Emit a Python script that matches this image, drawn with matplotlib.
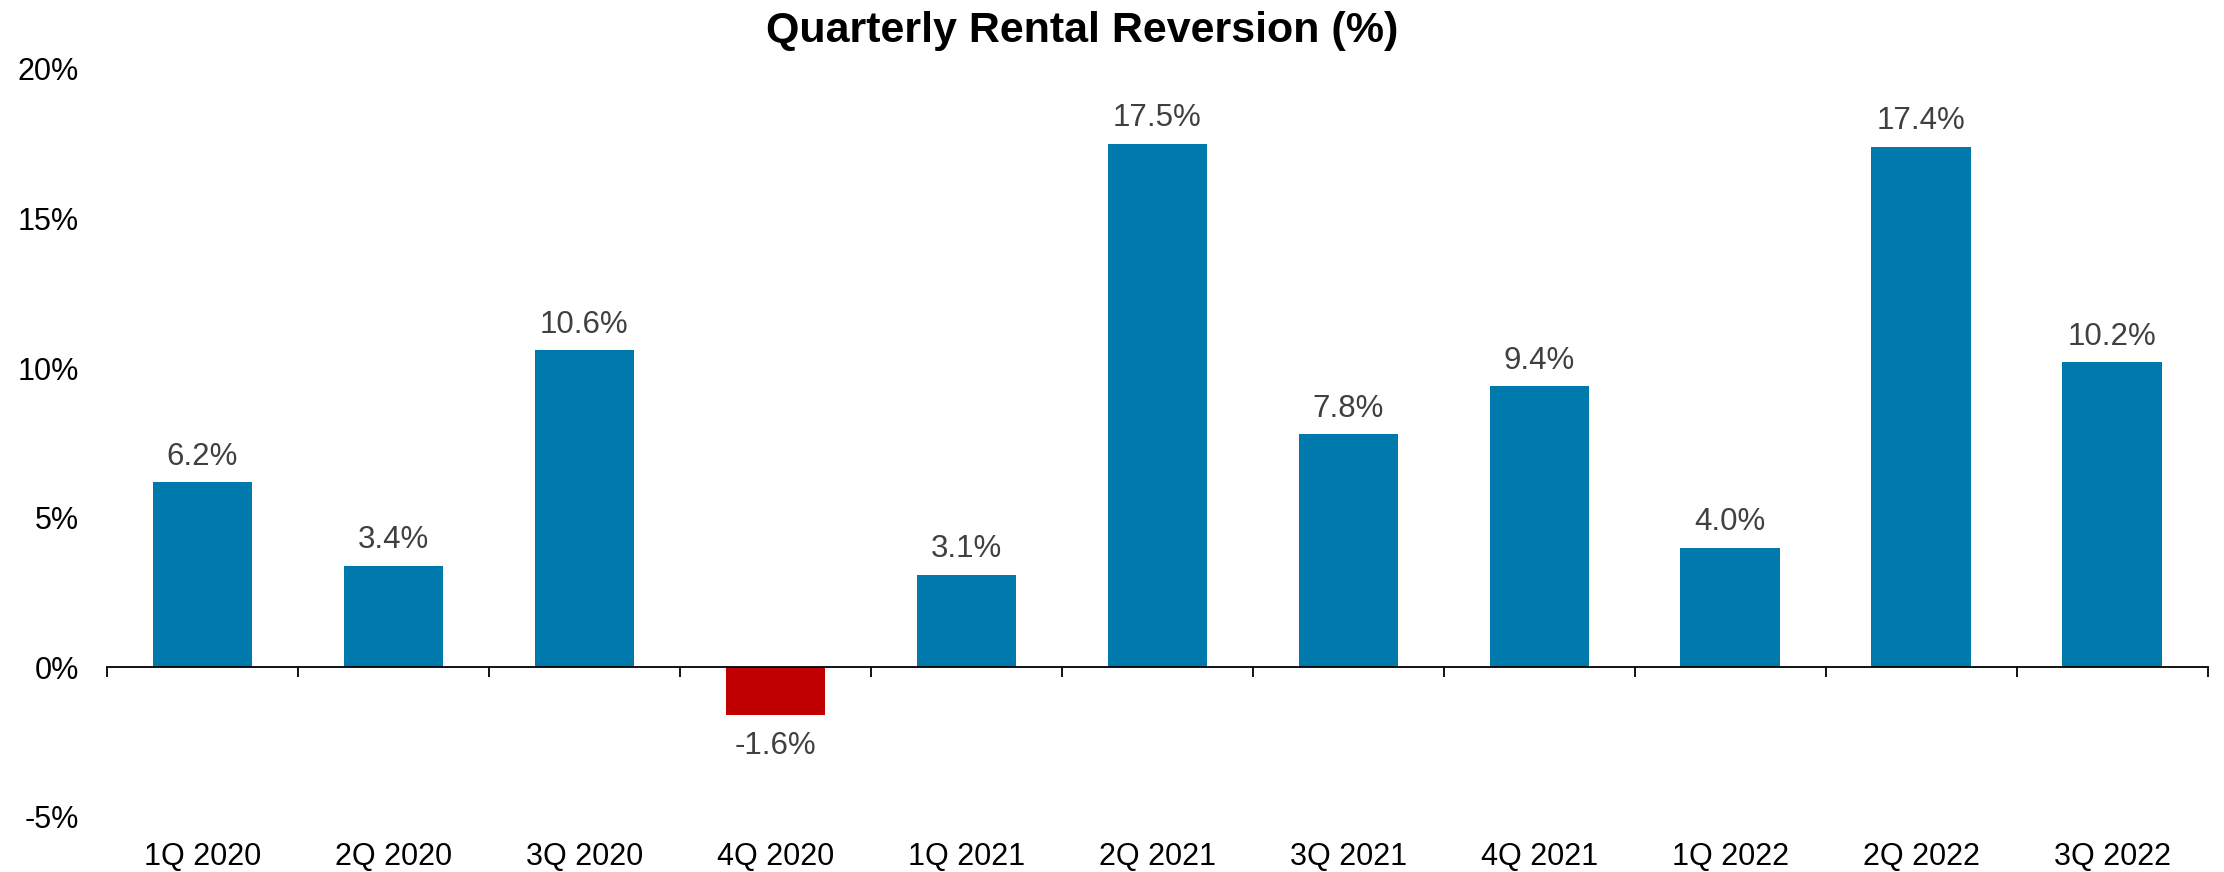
import matplotlib
matplotlib.use("Agg")
import matplotlib.pyplot as plt
import numpy as np

plt.rcParams['font.family'] = ['Liberation Sans', 'DejaVu Sans']

categories = ["1Q 2020", "2Q 2020", "3Q 2020", "4Q 2020", "1Q 2021", "2Q 2021",
              "3Q 2021", "4Q 2021", "1Q 2022", "2Q 2022", "3Q 2022"]
values = [6.2, 3.4, 10.6, -1.6, 3.1, 17.5, 7.8, 9.4, 4.0, 17.4, 10.2]
y_ticks = [-5, 0, 5, 10, 15, 20]
title = "Quarterly Rental Reversion (%)"

pos_color = "#0079AC"
neg_color = "#C00000"
label_color = "#404040"

fig = plt.figure(figsize=(22.24, 8.72), dpi=100)
ax = fig.add_axes([0.0481, 0.0631, 0.9445, 0.8578])

x = np.arange(len(categories))
colors = [pos_color if v >= 0 else neg_color for v in values]
bars = ax.bar(x, values, width=0.52, color=colors, zorder=2)

ax.set_xlim(-0.5, len(categories) - 0.5)
ax.set_ylim(-5, 20)

# data labels
for xi, v in zip(x, values):
    if v >= 0:
        ax.annotate(f"{v:.1f}%", (xi, v), xytext=(0, 12.5), textcoords="offset points",
                    ha="center", va="baseline", fontsize=22.5, color=label_color)
    else:
        ax.annotate(f"{v:.1f}%", (xi, v), xytext=(0, -11.5), textcoords="offset points",
                    ha="center", va="top", fontsize=22.5, color=label_color)

# y axis
ax.set_yticks(y_ticks)
ax.set_yticklabels([f"{t}%" for t in y_ticks])
ax.tick_params(axis="y", length=0, pad=20, labelsize=22, labelcolor="black")

# zero line axis with boundary ticks
for s in ["top", "right", "left"]:
    ax.spines[s].set_visible(False)
ax.spines["bottom"].set_position(("data", 0))
ax.spines["bottom"].set_linewidth(1.3)
ax.spines["bottom"].set_zorder(3)
ax.set_xticks(np.arange(-0.5, len(categories), 1.0))
ax.set_xticklabels([])
ax.tick_params(axis="x", direction="out", length=7, width=1.3, color="black")

# category labels at the bottom
sec = ax.secondary_xaxis("bottom")
sec.set_xticks(x)
sec.set_xticklabels(categories)
sec.tick_params(axis="x", length=0, pad=18, labelsize=22, labelcolor="black")
sec.spines["bottom"].set_visible(False)

fig.text(0.4865, 0.9518, title, ha="center", va="baseline", fontsize=31,
         fontweight="bold", color="black")

fig.savefig("out.png", dpi=100, facecolor="white")
